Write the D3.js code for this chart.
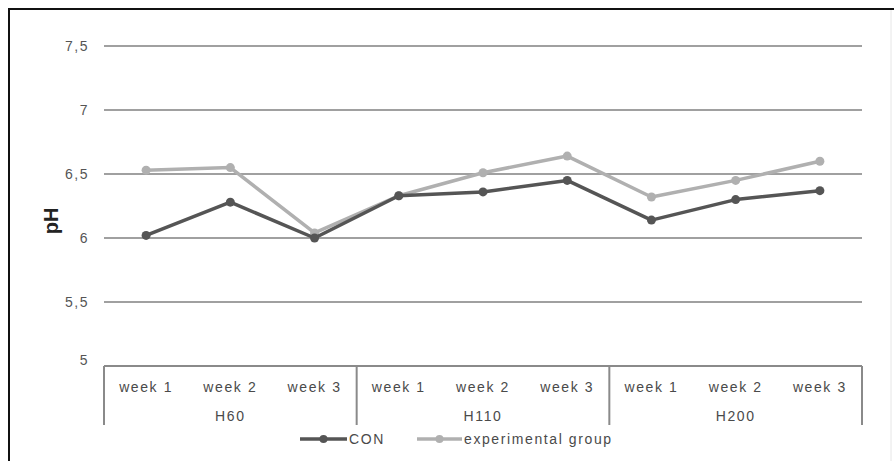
<!DOCTYPE html>
<html><head><meta charset="utf-8">
<script src="https://cdn.jsdelivr.net/npm/d3@7"></script>
<style>body{margin:0;background:#fff}svg{display:block}</style>
</head><body><svg id="c" width="894" height="461"></svg>
<script>
const groups = ["H60","H110","H200"];
const weeks = ["week 1","week 2","week 3"];
const conValues = [6.02,6.28,6.0, 6.33,6.36,6.45, 6.14,6.30,6.37];
const expValues = [6.53,6.55,6.04, 6.33,6.51,6.64, 6.32,6.45,6.60];
const yTicks = [5,5.5,6,6.5,7,7.5];
const seriesNames = ["CON","experimental group"];
const seriesColors = ["#555555","#b0b0b0"];

(function(){
const svg = d3.select("#c");
const font = "Arial, 'Liberation Sans', sans-serif";
const pL = 104, pR = 862, pT = 46, pB = 366;
const cats = [];
groups.forEach(g => weeks.forEach(w => cats.push(g + "|" + w)));
const x = d3.scaleBand().domain(cats).range([pL, pR]);
const y = d3.scaleLinear().domain([5, 7.5]).range([pB, pT]);
const txt = "#4a4a4a";

// frame
svg.append("line").attr("x1",8).attr("x2",894).attr("y1",9).attr("y2",9).attr("stroke","#111").attr("stroke-width",2);
svg.append("line").attr("x1",9).attr("x2",9).attr("y1",8).attr("y2",461).attr("stroke","#111").attr("stroke-width",2);
svg.append("line").attr("x1",891).attr("x2",891).attr("y1",10).attr("y2",461).attr("stroke","#e6e6e6").attr("stroke-width",1);

// gridlines
svg.append("g").selectAll("line").data(yTicks.filter(t => t > 5)).join("line")
  .attr("x1", pL).attr("x2", pR).attr("y1", d => y(d)).attr("y2", d => y(d))
  .attr("stroke", "#a0a0a0").attr("stroke-width", 2);

// y labels
const fmt = d => String(d).replace(".", ",");
svg.append("g").selectAll("text").data(yTicks).join("text")
  .attr("x", 89).attr("y", d => y(d) + (d === 5 ? -1 : 5)).attr("text-anchor","end")
  .attr("font-family", font).attr("font-size", 14).attr("letter-spacing", 1.5).attr("fill", "#555").text(fmt);

// y title
svg.append("text").attr("transform","translate(58,221) rotate(-90)").attr("text-anchor","middle")
  .attr("font-family", font).attr("font-size", 20).attr("font-weight","bold").attr("fill","#222").text("pH");

// category axis
const ax = svg.append("g").attr("stroke","#8a8a8a").attr("stroke-width",2).attr("fill","none");
ax.append("line").attr("x1", pL).attr("x2", pR).attr("y1", pB).attr("y2", pB);
const bounds = [0,3,6,9].map(i => i < 9 ? x(cats[i]) : pR);
bounds.forEach(b => ax.append("line").attr("x1", b).attr("x2", b).attr("y1", pB).attr("y2", 425));

svg.append("g").selectAll("text").data(cats).join("text")
  .attr("x", d => x(d) + x.bandwidth()/2).attr("y", 392).attr("text-anchor","middle")
  .attr("font-family", font).attr("font-size", 14).attr("letter-spacing", 1.6).attr("fill", txt).text(d => d.split("|")[1]);
svg.append("g").selectAll("text").data(groups).join("text")
  .attr("x", (g,i) => (bounds[i] + bounds[i+1]) / 2).attr("y", 421).attr("text-anchor","middle")
  .attr("font-family", font).attr("font-size", 14).attr("letter-spacing", 1.6).attr("fill", txt).text(d => d);

// lines
const line = d3.line().x((d,i) => x(cats[i]) + x.bandwidth()/2).y(d => y(d));
[expValues, conValues].forEach((vals, k) => {
  const col = k === 0 ? seriesColors[1] : seriesColors[0];
  svg.append("path").datum(vals).attr("d", line).attr("fill","none").attr("stroke", col).attr("stroke-width", 3.5).attr("stroke-linejoin","round");
  svg.append("g").selectAll("circle").data(vals).join("circle")
    .attr("cx", (d,i) => x(cats[i]) + x.bandwidth()/2).attr("cy", d => y(d)).attr("r", 4.5).attr("fill", col);
});

// legend
const legend = [{x1:300, x2:347, tx:349}, {x1:417, x2:462, tx:464}];
legend.forEach((l, i) => {
  svg.append("line").attr("x1", l.x1).attr("x2", l.x2).attr("y1", 439).attr("y2", 439).attr("stroke", seriesColors[i]).attr("stroke-width", 3.5);
  svg.append("circle").attr("cx", (l.x1 + l.x2)/2).attr("cy", 439).attr("r", 4).attr("fill", seriesColors[i]);
  svg.append("text").attr("x", l.tx).attr("y", 444).attr("font-family", font).attr("font-size", 14).attr("letter-spacing", 1.6).attr("fill", txt).text(seriesNames[i]);
});
})();
</script></body></html>
